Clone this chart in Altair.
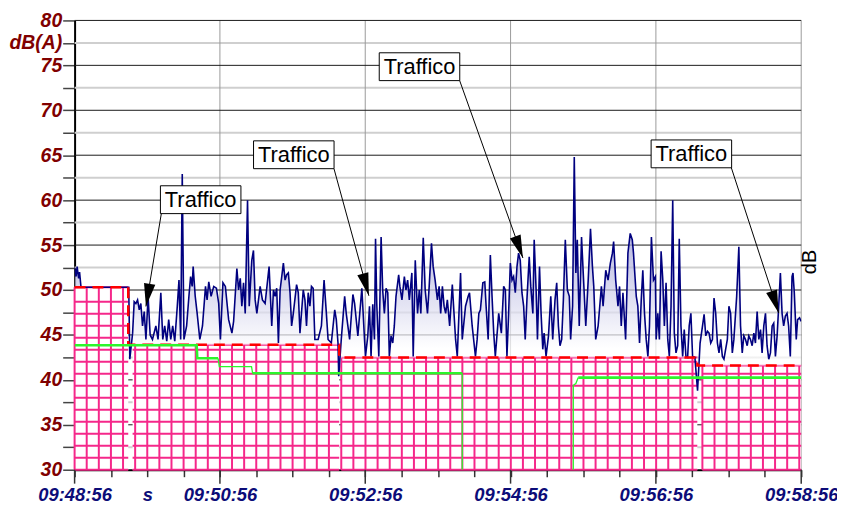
import math
import altair as alt
import pandas as pd

# ---------------- data ----------------
TICK_SECONDS = [0, 120, 240, 360, 480, 600]
TICK_LABELS = ["09:48:56", "09:50:56", "09:52:56", "09:54:56", "09:56:56", "09:58:56"]
MINOR_TICK_SECONDS = list(range(0, 601, 30))
X_UNIT_AT = 60
X_UNIT = "s"
Y_TICKS = [30 + 2.5 * i for i in range(21)]
Y_UNIT_AT = 77.5
Y_UNIT = "dB(A)"
RIGHT_TITLE = "dB"
NOTE_TEXT = "Traffico"

# measured level trace (seconds from 09:48:56, dB)
trace_t_a = [0, 1.2, 2.1, 3.3, 4.1, 5.3, 44.7, 45.6]
trace_db_a = [52.5, 51.5, 52.6, 51.3, 52.0, 50.3, 50.3, 42.3]

trace_t_b = [
    47.9, 49.2, 50.6, 52.0, 53.4, 54.7, 56.1, 57.5, 58.9, 60.7,
    62.4, 64.3, 67.1, 68.9, 71.2, 72.8, 74.4, 76.1, 77.7, 79.4,
    81.0, 82.7, 84.8, 86.2, 87.6, 88.9, 90.3, 92.5, 94.4, 95.8,
    97.1, 97.9, 99.6, 101.2, 103.4, 105.6, 108.1, 109.4, 110.8, 112.7,
    114.9, 117.1, 119.0, 120.4, 122.5, 124.5, 127.2, 129.9, 131.3, 134.0,
    135.4, 136.8, 138.1, 139.5, 140.9, 142.8, 144.2, 146.3, 147.7, 149.1,
    150.5, 153.2, 155.1, 157.3, 160.6, 162.8, 164.2, 165.6, 166.9, 168.3,
    169.7, 172.4, 173.8, 175.1, 176.5, 177.9, 179.2, 180.6, 183.3, 184.7,
    186.1, 188.8, 190.2, 191.5, 192.9, 194.3, 195.6, 197.0, 198.4, 201.1,
    203.8, 206.0, 207.9, 209.3, 212.0, 214.8, 216.1, 217.5, 218.1]
trace_db_b = [
    45.2, 48.7, 48.5, 48.9, 47.8, 48.5, 46.0, 47.6, 44.5, 49.3,
    45.0, 44.5, 46.0, 44.5, 49.7, 44.5, 46.0, 44.3, 46.7, 44.5,
    46.0, 44.3, 48.2, 51.1, 44.5, 62.9, 44.5, 46.0, 49.3, 51.5,
    50.4, 52.6, 49.3, 47.4, 44.5, 46.0, 50.4, 48.9, 50.9, 49.3,
    50.4, 50.2, 48.5, 44.5, 50.8, 50.4, 46.7, 45.2, 46.5, 52.4,
    50.0, 51.3, 48.2, 50.8, 47.4, 60.0, 48.2, 53.3, 54.4, 48.9,
    47.4, 50.4, 48.9, 48.5, 52.6, 46.0, 50.0, 49.3, 50.2, 44.1,
    50.0, 53.0, 51.1, 51.7, 51.9, 49.7, 46.0, 47.4, 50.6, 49.7,
    45.2, 50.0, 48.9, 46.0, 49.7, 48.2, 50.4, 50.2, 44.5, 44.5,
    46.0, 51.1, 47.4, 44.5, 44.1, 47.8, 46.7, 44.1, 40.4]

trace_t_c = [
    220.2, 223.0, 224.3, 227.1, 229.8, 231.2, 233.9, 237.2, 239.4, 240.2,
    242.1, 243.5, 244.8, 246.2, 247.6, 248.5, 249.5, 251.2, 253.1, 254.4,
    255.8, 257.2, 258.6, 259.9, 261.3, 262.7, 264.0, 265.4, 267.6, 268.6,
    270.3, 272.3, 273.6, 275.0, 276.4, 278.5, 279.6, 281.3, 283.2, 284.6,
    285.9, 287.9, 289.5, 291.4, 292.8, 294.7, 296.1, 297.7, 299.6, 301.0,
    302.3, 303.7, 305.1, 306.4, 307.8, 309.7, 311.9, 313.3, 314.6, 316.0,
    318.7, 320.1, 322.8, 325.0, 326.1, 328.3, 331.0, 332.4, 333.8, 335.1,
    337.1, 338.7, 339.8, 341.5, 343.3, 344.7, 346.1, 347.4, 350.2, 352.4,
    354.3, 355.7, 357.0, 358.4, 359.8, 361.2, 362.5, 363.9, 365.3, 366.6,
    368.0, 369.4, 370.8, 372.1, 373.5, 375.4, 376.7, 378.4, 379.5, 381.1,
    382.2, 383.9, 385.2, 386.6, 387.7, 389.3, 391.3, 393.2, 394.8, 396.7,
    398.1, 399.5, 400.8, 402.2, 403.6, 405.2, 406.9, 408.5, 409.6, 411.2,
    412.6, 413.9, 415.1, 416.7, 418.6, 420.0, 422.1, 424.1, 426.0, 427.6,
    428.7, 430.3, 432.3, 435.0, 436.4, 438.6, 440.5, 442.4, 444.1, 445.1,
    446.8, 448.7, 450.0, 451.4, 452.8, 455.0, 456.9, 458.8, 460.5, 461.5,
    463.8, 465.1, 466.5, 467.9, 469.2, 470.6, 472.0, 473.4, 474.7, 476.3,
    478.0, 479.6, 480.2, 481.6, 482.9, 484.3, 485.7, 487.0, 488.4, 489.8,
    491.1, 492.5, 493.9, 495.2, 496.6, 498.0, 499.3, 500.7, 502.1, 503.4,
    504.8, 506.2, 507.5, 508.9, 510.3, 512.2, 514.4]
trace_db_c = [
    44.5, 49.3, 47.4, 44.5, 49.5, 48.5, 44.9, 50.2, 44.5, 42.6,
    44.9, 48.2, 42.6, 48.4, 44.5, 55.7, 48.5, 42.6, 55.9, 50.0,
    47.4, 50.2, 49.7, 42.6, 44.9, 44.1, 46.0, 49.3, 51.7, 50.4,
    48.9, 51.5, 50.0, 51.1, 48.9, 51.9, 42.6, 53.3, 47.4, 50.0,
    47.4, 55.8, 50.0, 47.4, 50.4, 55.2, 52.6, 51.1, 48.9, 50.4,
    47.4, 50.4, 48.2, 47.4, 48.9, 46.0, 50.6, 47.4, 44.5, 42.6,
    51.9, 44.5, 48.2, 49.3, 49.7, 46.0, 42.6, 44.5, 47.4, 47.8,
    50.8, 50.9, 48.2, 44.5, 53.9, 49.3, 45.2, 42.6, 47.4, 45.2,
    50.4, 50.0, 42.6, 47.4, 53.0, 51.1, 51.5, 49.7, 52.6, 54.1,
    53.3, 49.7, 48.2, 44.5, 48.9, 53.7, 50.4, 47.4, 55.6, 50.0,
    44.5, 52.6, 47.4, 43.4, 45.2, 42.6, 44.9, 49.3, 44.5, 48.9,
    50.8, 46.0, 43.8, 44.5, 48.9, 55.6, 50.0, 49.3, 44.5, 48.2,
    64.8, 51.9, 55.6, 46.0, 55.9, 51.9, 46.0, 51.1, 56.8, 52.6,
    50.4, 44.5, 46.0, 50.4, 48.2, 52.2, 51.1, 53.0, 54.1, 55.4,
    51.1, 48.2, 50.4, 46.0, 49.7, 44.5, 54.1, 56.3, 55.6, 54.1,
    49.3, 48.2, 44.1, 48.9, 52.2, 47.4, 44.5, 42.6, 46.0, 55.9,
    51.1, 51.5, 44.5, 47.4, 44.5, 54.3, 51.1, 46.0, 50.8, 44.5,
    42.6, 48.2, 60.0, 45.2, 43.0, 43.8, 55.7, 46.0, 42.6, 45.6,
    42.6, 42.5, 46.0, 47.4, 42.6, 42.5, 38.8]

trace_t_d = [
    516.5, 518.5, 519.8, 521.2, 522.6, 523.9, 525.3, 526.7, 528.0, 529.4,
    530.8, 532.1, 533.5, 534.9, 536.2, 539.0, 540.3, 541.7, 543.1, 544.4,
    546.7, 548.5, 549.9, 551.3, 552.6, 554.0, 555.4, 556.7, 558.1, 559.5,
    560.9, 562.2, 563.6, 565.0, 566.4, 567.7, 569.1, 570.5, 571.8, 573.2,
    574.6, 576.0, 577.3, 578.7, 580.1, 581.4, 582.8, 584.2, 585.5, 586.9,
    588.3, 589.6, 591.0, 592.4, 593.2, 594.3, 595.9, 597.0, 598.6, 600.0]
trace_db_d = [
    44.1, 46.0, 47.3, 44.9, 45.4, 45.2, 44.1, 44.5, 49.1, 47.4,
    44.1, 43.0, 44.5, 42.6, 42.3, 44.5, 48.2, 47.4, 43.0, 44.5,
    49.3, 54.8, 46.0, 43.0, 44.9, 44.5, 43.8, 44.9, 44.5, 43.8,
    45.2, 44.1, 47.6, 44.5, 45.6, 43.0, 46.0, 47.4, 43.8, 42.3,
    43.0, 46.0, 46.3, 42.6, 44.9, 48.2, 51.9, 47.4, 46.0, 47.1,
    47.4, 46.0, 42.6, 51.5, 51.9, 49.7, 44.5, 46.7, 46.9, 46.5]

# background-level segments (hatched blocks)
seg_start = [0.0, 47.9, 220.2, 518.4]
seg_end = [44.3, 218.5, 514.2, 600.0]
seg_level = [50.3, 43.9, 42.5, 41.6]
seg_grid_anchor = [0.0, 50.0, 220.2, 518.4]

# running minimum (green) pieces
green_t = [0, 100.8, 101.3, 118.5,
           118.5, 119.5, 146.1, 147.0,
           147.0, 320.1,
           320.1, 320.1, 411.8, 411.8, 413.9, 415.9,
           415.9, 600.0]
green_db = [43.85, 43.85, 42.4, 42.4,
            42.4, 41.47, 41.47, 40.73,
            40.73, 40.73,
            40.73, 25.0, 25.0, 39.4, 39.6, 40.25,
            40.25, 40.25]
green_piece = ["A", "A", "A", "A",
               "B", "B", "B", "B",
               "C", "C",
               "D", "D", "D", "D", "D", "D",
               "E", "E"]
thick_pieces = ["A", "C", "E"]

# annotations
note_t = [104.1, 181.0, 284.8, 509.3]
note_db = [60.05, 65.05, 74.85, 65.15]
arrow_from_t = [71.7, 214.2, 317.9, 541.7]
arrow_from_db = [58.57, 63.49, 73.33, 63.85]
arrow_to_t = [58.9, 243.0, 370.2, 581.4]
arrow_to_db = [48.17, 49.36, 53.56, 47.44]

# ---------------- geometry / style ----------------
W, H = 731, 452
T0, T1 = 0, 600
Y0, Y1 = 30, 80
PX_S = W / (T1 - T0)
PX_DB = H / (Y1 - Y0)
HATCH_DT = 10.0
HATCH_DDB = 1.335
PINK = "#f5288a"
FONT = "Liberation Sans"

xs = alt.Scale(domain=[T0, T1], nice=False, zero=False)
ys = alt.Scale(domain=[Y0, Y1], nice=False, zero=False)

x_expr = " : ".join(
    [f"datum.value == {s} ? '{l}'" for s, l in zip(TICK_SECONDS, TICK_LABELS)]
    + [f"datum.value == {X_UNIT_AT} ? '{X_UNIT}'"]
) + " : ''"
y_expr = (f"datum.value == {Y_UNIT_AT} ? '{Y_UNIT}' : "
          "(datum.value % 5 == 0 ? format(datum.value, 'd') : '')")

xaxis = alt.Axis(values=MINOR_TICK_SECONDS, labelExpr=x_expr, title=None, grid=False,
                 tickSize=7, tickColor="#333333", tickWidth=1.5,
                 domainColor="#000000", domainWidth=2,
                 labelFont=FONT, labelFontSize=18.5, labelFontStyle="italic",
                 labelFontWeight="bold", labelColor="#0c0c78", labelPadding=9,
                 labelFlush=False, labelOverlap=False)
yaxis = alt.Axis(values=Y_TICKS, labelExpr=y_expr, title=None, grid=False,
                 tickSize=12, tickColor="#444444", tickWidth=1.5,
                 domainColor="#000000", domainWidth=2,
                 labelFont=FONT, labelFontSize=19.5, labelFontStyle="italic",
                 labelFontWeight="bold", labelColor="#800000", labelPadding=1,
                 labelOverlap=False)


def X(f):
    return alt.X(f, type="quantitative", scale=xs, axis=xaxis)


def Y(f):
    return alt.Y(f, type="quantitative", scale=ys, axis=yaxis)


# ---------------- tables ----------------
trace_t = trace_t_a + trace_t_b + trace_t_c + trace_t_d
trace_db = trace_db_a + trace_db_b + trace_db_c + trace_db_d


def level_at(t):
    idx = max(i for i, s in enumerate(seg_start) if s <= t + 1e-9)
    return seg_level[idx]


trace = pd.DataFrame({"t": trace_t, "db": trace_db})
trace["base"] = [min(d, level_at(t)) for t, d in zip(trace_t, trace_db)]

blocks = pd.DataFrame({"t0": seg_start, "t1": seg_end, "lv": seg_level, "b": [Y0] * 4})

vrows, hrows = [], []
for s, e, lv, a in zip(seg_start, seg_end, seg_level, seg_grid_anchor):
    k = 0
    while a + k * HATCH_DT <= e + 0.01:
        vrows.append({"t": a + k * HATCH_DT, "b": Y0, "lv": lv})
        k += 1
    k = 0
    while Y0 + k * HATCH_DDB < lv - 0.4:
        hrows.append({"t0": s, "t1": e, "y": Y0 + k * HATCH_DDB})
        k += 1
    hrows.append({"t0": s, "t1": e, "y": lv})
hatch_v = pd.DataFrame(vrows)
hatch_h = pd.DataFrame(hrows)

red_rows = []
for i in range(len(seg_start)):
    red_rows.append({"t": seg_start[i], "y": seg_level[i]})
    red_rows.append({"t": seg_end[i], "y": seg_level[i]})
    if i + 1 < len(seg_start):
        red_rows.append({"t": seg_end[i], "y": seg_level[i + 1]})
red = pd.DataFrame(red_rows)
red["i"] = range(len(red))

green = pd.DataFrame({"t": green_t, "db": green_db, "piece": green_piece})
green["i"] = range(len(green))
green_thick = green[green["piece"].isin(thick_pieces)]
green_thin = green[~green["piece"].isin(thick_pieces)]

minor_grid = pd.DataFrame({"y": [v for v in Y_TICKS if v % 5 != 0]})
major_grid = pd.DataFrame({"y": [v for v in Y_TICKS if v % 5 == 0 and v > Y0]})
vert_grid = pd.DataFrame({"t": [s for s in TICK_SECONDS if s > T0]})
major_ticks = pd.DataFrame({"t": TICK_SECONDS})

BOX_HALF_W = 40.5 / PX_S
BOX_HALF_H = 14.0 / PX_DB
notes = pd.DataFrame({"t": note_t, "db": note_db, "label": [NOTE_TEXT] * 4})
notes["t0"] = notes["t"] - BOX_HALF_W
notes["t1"] = notes["t"] + BOX_HALF_W
notes["d0"] = notes["db"] - BOX_HALF_H
notes["d1"] = notes["db"] + BOX_HALF_H

arrows = pd.DataFrame({"t0": arrow_from_t, "d0": arrow_from_db,
                       "t1": arrow_to_t, "d1": arrow_to_db})
arrows["ang"] = [
    math.degrees(math.atan2((b - a) * PX_S, (d - c) * PX_DB)) % 360
    for a, b, c, d in zip(arrow_from_t, arrow_to_t, arrow_from_db, arrow_to_db)
]
ARROW_HEAD = "M0,0L0.5,2L-0.5,2Z"

# ---------------- layers ----------------
layers = []
layers.append(alt.Chart(minor_grid).mark_rule(color="#cfcfcf", strokeWidth=2).encode(y=Y("y")))
layers.append(alt.Chart(vert_grid).mark_rule(color="#9a9a9a", strokeWidth=1).encode(x=X("t")))
layers.append(alt.Chart(major_grid).mark_rule(color="#1a1a1a", strokeWidth=1).encode(y=Y("y")))

layers.append(alt.Chart(blocks).mark_rect(color="white").encode(
    x=X("t0"), x2="t1", y=Y("b"), y2="lv"))
layers.append(alt.Chart(hatch_h).mark_rule(color=PINK, strokeWidth=2).encode(
    x=X("t0"), x2="t1", y=Y("y")))
layers.append(alt.Chart(hatch_v).mark_rule(color=PINK, strokeWidth=2).encode(
    x=X("t"), y=Y("b"), y2="lv"))

fill_grad = alt.Gradient(
    gradient="linear",
    stops=[alt.GradientStop(color="#5c5cb0", offset=0),
           alt.GradientStop(color="#a8a8da", offset=0.4),
           alt.GradientStop(color="#ffffff", offset=0.82)],
    x1=0, x2=0, y1=0, y2=1)
layers.append(alt.Chart(trace).mark_area(fill=fill_grad, opacity=0.7, clip=True).encode(
    x=X("t"), y=Y("db"), y2="base"))
layers.append(alt.Chart(trace).mark_line(color="#00007f", strokeWidth=1.6, clip=True).encode(
    x=X("t"), y=Y("db")))

layers.append(alt.Chart(red).mark_line(color="#ff0000", strokeWidth=2.5, strokeDash=[11, 7]).encode(
    x=X("t"), y=Y("y"), order="i:Q"))
layers.append(alt.Chart(green_thin).mark_line(color="#2cf52c", strokeWidth=1.3, clip=True).encode(
    x=X("t"), y=Y("db"), detail="piece:N", order="i:Q"))
layers.append(alt.Chart(green_thick).mark_line(color="#2cf52c", strokeWidth=2.6, clip=True).encode(
    x=X("t"), y=Y("db"), detail="piece:N", order="i:Q"))

layers.append(alt.Chart(major_ticks).mark_rule(color="#333333", strokeWidth=1.5).encode(
    x=X("t"), y=alt.value(H), y2=alt.value(H + 14)))

layers.append(alt.Chart(arrows).mark_rule(color="black", strokeWidth=1).encode(
    x=X("t0"), x2="t1", y=Y("d0"), y2="d1"))
layers.append(alt.Chart(arrows).mark_point(shape=ARROW_HEAD, filled=True, size=529,
                                            color="black", opacity=1, strokeWidth=0).encode(
    x=X("t1"), y=Y("d1"), angle=alt.Angle("ang:Q", scale=None)))
layers.append(alt.Chart(notes).mark_rect(fill="white", stroke="black", strokeWidth=1).encode(
    x=X("t0"), x2="t1", y=Y("d0"), y2="d1"))
layers.append(alt.Chart(notes).mark_text(font=FONT, fontSize=22, color="black",
                                          align="center", baseline="middle").encode(
    x=X("t"), y=Y("db"), text="label:N"))

layers.append(alt.Chart(pd.DataFrame({"a": [0]})).mark_text(
    text=RIGHT_TITLE, font=FONT, fontSize=20, color="black", angle=270,
    align="center", baseline="middle").encode(x=alt.value(W + 9), y=alt.value(H / 2 + 17)))

chart = alt.layer(*layers).properties(
    width=W, height=H,
    padding={"left": 67, "top": 11, "right": 36, "bottom": 36},
    autosize=alt.AutoSizeParams(type="none"),
).configure_view(stroke=None)

chart.save("out.html", embed_options={"renderer": "svg", "actions": False})
